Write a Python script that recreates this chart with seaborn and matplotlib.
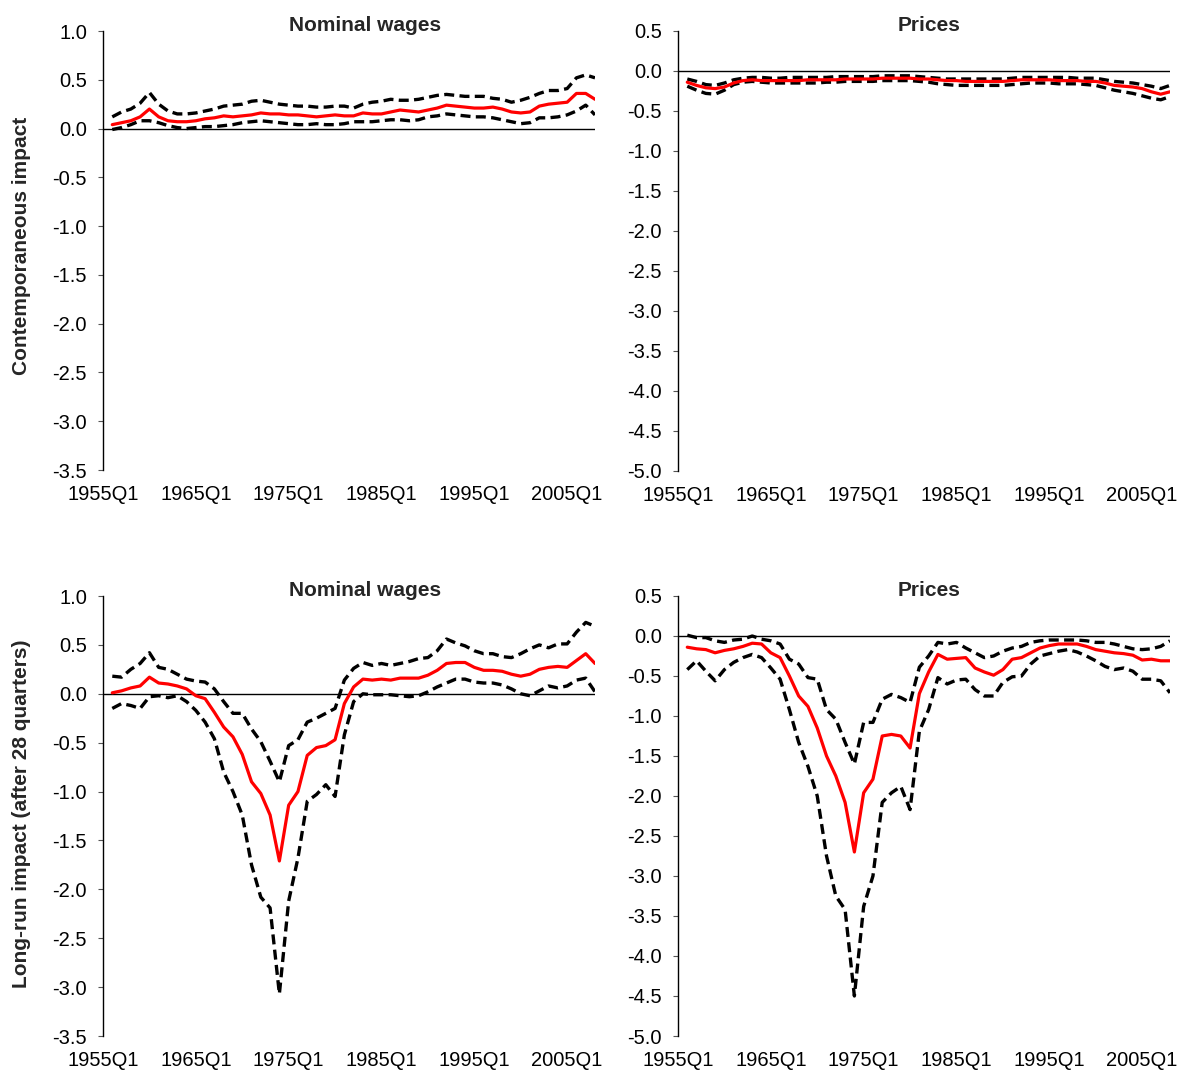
import matplotlib
matplotlib.use("Agg")
import matplotlib.pyplot as plt
import seaborn as sns
import pandas as pd

sns.set_style("white")
plt.rcParams['font.family'] = ['Liberation Sans', 'DejaVu Sans']
plt.rcParams['axes.unicode_minus'] = False

# ---------------- data (annual points) ----------------
years = list(range(1956, 2009))

# Contemporaneous impact - Nominal wages
cw_mid = [0.04, 0.06, 0.08, 0.12, 0.20, 0.12, 0.08, 0.07, 0.07, 0.08,
          0.10, 0.11, 0.13, 0.12, 0.13, 0.14, 0.16, 0.15, 0.15, 0.14,
          0.14, 0.13, 0.12, 0.13, 0.14, 0.13, 0.13, 0.16, 0.15, 0.15,
          0.17, 0.19, 0.18, 0.17, 0.19, 0.21, 0.24, 0.23, 0.22, 0.21,
          0.21, 0.22, 0.20, 0.17, 0.16, 0.17, 0.23, 0.25, 0.26, 0.27,
          0.36, 0.36, 0.30]
cw_hi = [0.12, 0.17, 0.20, 0.26, 0.37, 0.25, 0.18, 0.15, 0.15, 0.16,
         0.18, 0.20, 0.23, 0.24, 0.25, 0.28, 0.29, 0.27, 0.25, 0.24,
         0.23, 0.23, 0.22, 0.22, 0.23, 0.23, 0.21, 0.25, 0.27, 0.28,
         0.30, 0.29, 0.29, 0.30, 0.32, 0.34, 0.35, 0.34, 0.33, 0.33,
         0.33, 0.31, 0.30, 0.27, 0.29, 0.32, 0.36, 0.39, 0.39, 0.41,
         0.52, 0.55, 0.52]
cw_lo = [-0.01, 0.01, 0.04, 0.08, 0.08, 0.06, 0.03, 0.01, 0.00, 0.01,
         0.02, 0.02, 0.03, 0.04, 0.06, 0.07, 0.08, 0.07, 0.06, 0.05,
         0.04, 0.04, 0.05, 0.04, 0.04, 0.05, 0.07, 0.07, 0.07, 0.08,
         0.09, 0.09, 0.08, 0.09, 0.12, 0.13, 0.15, 0.14, 0.13, 0.12,
         0.12, 0.11, 0.09, 0.07, 0.05, 0.06, 0.11, 0.11, 0.12, 0.14,
         0.18, 0.24, 0.14]

# Contemporaneous impact - Prices
cp_mid = [-0.14, -0.18, -0.21, -0.22, -0.20, -0.15, -0.12, -0.11, -0.12, -0.12,
          -0.12, -0.12, -0.12, -0.11, -0.11, -0.11, -0.11, -0.10, -0.10, -0.10,
          -0.10, -0.09, -0.09, -0.09, -0.09, -0.10, -0.10, -0.11, -0.12, -0.12,
          -0.13, -0.13, -0.13, -0.13, -0.13, -0.12, -0.11, -0.11, -0.11, -0.11,
          -0.12, -0.12, -0.12, -0.13, -0.13, -0.15, -0.18, -0.19, -0.20, -0.22,
          -0.26, -0.29, -0.26]
cp_hi = [-0.10, -0.13, -0.17, -0.18, -0.15, -0.11, -0.09, -0.08, -0.08, -0.09,
         -0.09, -0.08, -0.08, -0.08, -0.08, -0.08, -0.07, -0.07, -0.07, -0.07,
         -0.07, -0.06, -0.06, -0.06, -0.06, -0.07, -0.08, -0.09, -0.10, -0.10,
         -0.10, -0.10, -0.10, -0.10, -0.10, -0.09, -0.08, -0.08, -0.08, -0.08,
         -0.08, -0.08, -0.09, -0.09, -0.09, -0.11, -0.13, -0.14, -0.15, -0.17,
         -0.19, -0.22, -0.18]
cp_lo = [-0.19, -0.24, -0.28, -0.29, -0.24, -0.17, -0.14, -0.13, -0.14, -0.15,
         -0.15, -0.15, -0.15, -0.15, -0.15, -0.14, -0.14, -0.13, -0.13, -0.13,
         -0.13, -0.12, -0.12, -0.12, -0.12, -0.13, -0.14, -0.16, -0.17, -0.18,
         -0.18, -0.18, -0.18, -0.18, -0.18, -0.17, -0.16, -0.15, -0.15, -0.15,
         -0.16, -0.16, -0.16, -0.17, -0.18, -0.21, -0.24, -0.26, -0.28, -0.31,
         -0.34, -0.36, -0.32]

# Long-run impact - Nominal wages
lw_mid = [0.01, 0.03, 0.06, 0.08, 0.17, 0.11, 0.10, 0.08, 0.05, -0.02,
          -0.05, -0.19, -0.34, -0.44, -0.62, -0.90, -1.02, -1.24, -1.71, -1.14,
          -1.00, -0.63, -0.55, -0.53, -0.47, -0.10, 0.07, 0.15, 0.14, 0.15,
          0.14, 0.16, 0.16, 0.16, 0.19, 0.24, 0.31, 0.32, 0.32, 0.27,
          0.24, 0.24, 0.23, 0.20, 0.18, 0.20, 0.25, 0.27, 0.28, 0.27,
          0.34, 0.41, 0.31]
lw_hi = [0.18, 0.17, 0.25, 0.31, 0.42, 0.27, 0.25, 0.20, 0.15, 0.13,
         0.12, 0.05, -0.08, -0.20, -0.20, -0.36, -0.49, -0.69, -0.90, -0.53,
         -0.47, -0.29, -0.25, -0.20, -0.15, 0.14, 0.26, 0.32, 0.29, 0.31,
         0.29, 0.31, 0.33, 0.36, 0.37, 0.44, 0.56, 0.52, 0.49, 0.44,
         0.41, 0.41, 0.38, 0.37, 0.41, 0.46, 0.50, 0.47, 0.51, 0.51,
         0.63, 0.73, 0.69]
lw_lo = [-0.15, -0.10, -0.12, -0.15, -0.03, -0.02, -0.04, -0.02, -0.08, -0.17,
         -0.29, -0.46, -0.80, -1.00, -1.24, -1.75, -2.08, -2.19, -3.07, -2.12,
         -1.68, -1.10, -1.03, -0.93, -1.05, -0.42, -0.08, 0.00, -0.01, -0.01,
         -0.01, -0.02, -0.03, -0.02, 0.02, 0.07, 0.11, 0.15, 0.15, 0.12,
         0.11, 0.11, 0.09, 0.05, 0.00, -0.02, 0.03, 0.08, 0.06, 0.08,
         0.14, 0.16, 0.02]

# Long-run impact - Prices
lp_mid = [-0.14, -0.16, -0.17, -0.21, -0.18, -0.16, -0.13, -0.09, -0.10, -0.21,
          -0.27, -0.50, -0.75, -0.88, -1.15, -1.50, -1.75, -2.08, -2.70, -1.96,
          -1.79, -1.25, -1.23, -1.25, -1.40, -0.72, -0.45, -0.23, -0.29, -0.28,
          -0.27, -0.40, -0.45, -0.49, -0.42, -0.29, -0.27, -0.21, -0.15, -0.12,
          -0.10, -0.10, -0.10, -0.13, -0.17, -0.19, -0.21, -0.22, -0.24, -0.30,
          -0.29, -0.31, -0.31]
lp_hi = [0.01, -0.02, -0.02, -0.06, -0.08, -0.05, -0.04, 0.00, -0.04, -0.06,
         -0.10, -0.29, -0.35, -0.52, -0.54, -0.92, -1.04, -1.33, -1.60, -1.08,
         -1.08, -0.79, -0.73, -0.77, -0.83, -0.39, -0.25, -0.08, -0.10, -0.08,
         -0.15, -0.21, -0.27, -0.25, -0.19, -0.15, -0.13, -0.08, -0.06, -0.05,
         -0.05, -0.05, -0.05, -0.06, -0.08, -0.08, -0.10, -0.13, -0.16, -0.17,
         -0.16, -0.13, -0.06]
lp_lo = [-0.42, -0.31, -0.44, -0.56, -0.42, -0.33, -0.27, -0.23, -0.27, -0.40,
         -0.54, -0.92, -1.33, -1.63, -2.00, -2.75, -3.25, -3.42, -4.50, -3.38,
         -3.00, -2.08, -1.96, -1.88, -2.17, -1.19, -0.92, -0.52, -0.60, -0.55,
         -0.54, -0.67, -0.75, -0.75, -0.58, -0.51, -0.50, -0.35, -0.25, -0.22,
         -0.19, -0.17, -0.20, -0.25, -0.31, -0.38, -0.42, -0.40, -0.44, -0.54,
         -0.54, -0.56, -0.71]

tick_years = [1955, 1965, 1975, 1985, 1995, 2005]
tick_labels = ["1955Q1", "1965Q1", "1975Q1", "1985Q1", "1995Q1", "2005Q1"]

panels = [
    dict(title="Nominal wages", mid=cw_mid, hi=cw_hi, lo=cw_lo, ylim=(-3.5, 1.0), tx=0.533),
    dict(title="Prices", mid=cp_mid, hi=cp_hi, lo=cp_lo, ylim=(-5.0, 0.5), tx=0.510),
    dict(title="Nominal wages", mid=lw_mid, hi=lw_hi, lo=lw_lo, ylim=(-3.5, 1.0), tx=0.533),
    dict(title="Prices", mid=lp_mid, hi=lp_hi, lo=lp_lo, ylim=(-5.0, 0.5), tx=0.510),
]

W, H = 1185, 1070
fig = plt.figure(figsize=(W / 100, H / 100), dpi=100)
fig.patch.set_facecolor("white")

boxes = [  # left, top, right, bottom in pixels
    (103, 31, 595, 470),
    (678, 31, 1170, 471),
    (103, 596, 595, 1036),
    (678, 596, 1170, 1036),
]

for p, (l, t, r, b) in zip(panels, boxes):
    ax = fig.add_axes([l / W, 1 - b / H, (r - l) / W, (b - t) / H])
    df = pd.DataFrame({"year": years, "mid": p["mid"], "hi": p["hi"], "lo": p["lo"]})
    ax.axhline(0, color="black", lw=1.0, zorder=1)
    for col in ["hi", "lo"]:
        sns.lineplot(data=df, x="year", y=col, ax=ax, color="black", lw=2.4,
                     linestyle=(0, (3.0, 1.6)), zorder=3)
    sns.lineplot(data=df, x="year", y="mid", ax=ax, color="#ff0000", lw=2.3, zorder=4)

    ax.set_xlim(1955, 2008.0)
    ax.set_ylim(*p["ylim"])
    lo_, hi_ = p["ylim"]
    yt = [round(lo_ + 0.5 * i, 1) for i in range(int(round((hi_ - lo_) / 0.5)) + 1)]
    ax.set_yticks(yt)
    ax.set_yticklabels([f"{v:.1f}" for v in yt])
    ax.set_xticks(tick_years)
    ax.set_xticklabels(tick_labels)
    ax.set_xlabel("")
    ax.set_ylabel("")
    for s in ["top", "right", "bottom"]:
        ax.spines[s].set_visible(False)
    ax.spines["left"].set_color("black")
    ax.spines["left"].set_linewidth(1.0)
    ax.tick_params(axis="y", direction="out", length=3.5, width=0.8, color="#555555",
                   pad=8, labelsize=14.5, labelcolor="black", left=True)
    ax.tick_params(axis="x", length=0, pad=10.5, labelsize=14.5, labelcolor="black")
    ax.set_title(p["title"], fontsize=15, fontweight="bold", x=p["tx"], pad=0)
    ax.grid(False)

fig.text(22 / W, 1 - 246 / H, "Contemporaneous impact", rotation=90, ha="center",
         va="center", fontsize=15, fontweight="bold")
fig.text(22 / W, 1 - 814 / H, "Long-run impact (after 28 quarters)", rotation=90,
         ha="center", va="center", fontsize=15, fontweight="bold")

fig.savefig("out.png", dpi=100, facecolor="white")
